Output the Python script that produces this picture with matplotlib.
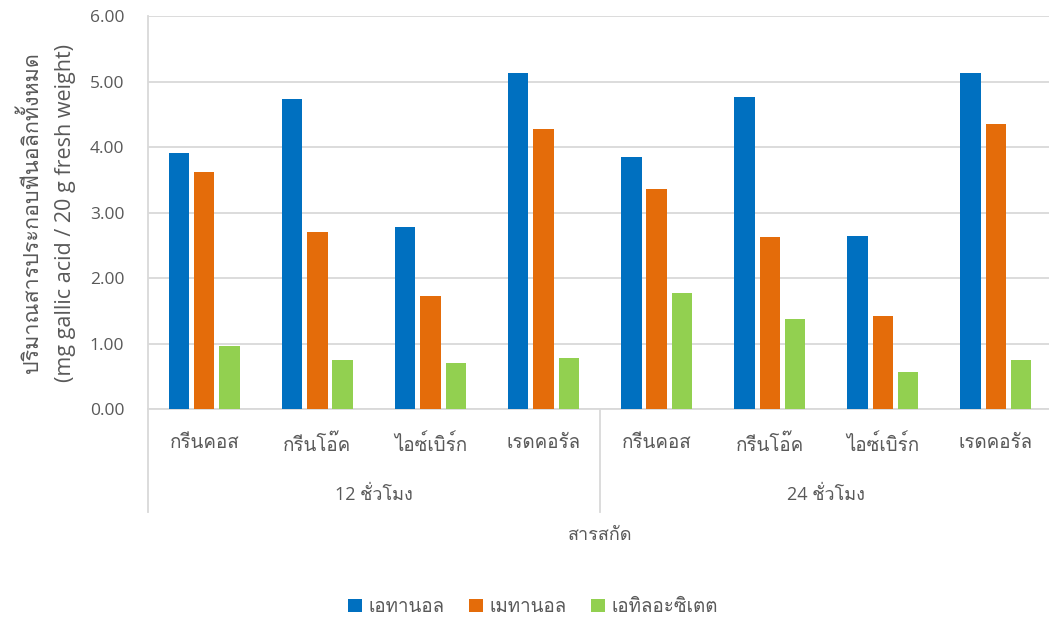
import numpy as np
import matplotlib
matplotlib.use("Agg")
import matplotlib.pyplot as plt
import matplotlib.transforms as mtransforms
from matplotlib import font_manager
from matplotlib.ft2font import FT2Font
from matplotlib.patches import Patch

# data
groups = ['12 ชั่วโมง', '24 ชั่วโมง']
plants = ['กรีนคอส', 'กรีนโอ๊ค', 'ไอซ์เบิร์ก', 'เรดคอรัล']
series = ['เอทานอล', 'เมทานอล', 'เอทิลอะซิเตต']
ethanol = [3.91, 4.74, 2.78, 5.13, 3.85, 4.77, 2.64, 5.13]
methanol = [3.62, 2.70, 1.73, 4.27, 3.36, 2.63, 1.43, 4.36]
ethyl_acetate = [0.96, 0.75, 0.70, 0.78, 1.77, 1.38, 0.57, 0.75]
colors = ['#0070C0', '#E46C0A', '#92D050']


def find_thai_font():
    # first installed font that has Thai glyphs
    for f in font_manager.fontManager.ttflist:
        try:
            if 0x0E01 in FT2Font(f.fname).get_charmap():
                return f.name
        except Exception:
            pass
    return None


thai = find_thai_font()
fams = ['Open Sans', 'DejaVu Sans']
if thai:
    fams.append(thai)
plt.rcParams['font.family'] = fams
grey = '#595959'

fig = plt.figure(figsize=(10.49, 6.21), dpi=100)
ax = fig.add_axes([0.141, 0.341, 0.862, 0.633])

n = len(groups) * len(plants)
x = np.arange(n)
w = 0.178
step = 0.222
for i, vals in enumerate([ethanol, methanol, ethyl_acetate]):
    ax.bar(x + (i - 1) * step, vals, w, color=colors[i], label=series[i], zorder=3)

ax.set_xlim(-0.5, n - 0.5)
ax.set_ylim(0, 6)
ax.set_yticks(np.arange(0, 6.01, 1))
ax.set_yticklabels(['%.2f' % v for v in np.arange(0, 6.01, 1)])
ax.yaxis.grid(True, color='#d9d9d9', linewidth=1.3, zorder=0)
ax.set_xticks(x)
ax.set_xticklabels(plants * len(groups))
ax.tick_params(axis='both', length=0, colors=grey)
ax.tick_params(axis='y', labelsize=12.5, pad=17)
ax.tick_params(axis='x', labelsize=13.5, pad=18)
for s in ['top', 'right']:
    ax.spines[s].set_visible(False)
for s in ['left', 'bottom']:
    ax.spines[s].set_color('#d9d9d9')
    ax.spines[s].set_linewidth(1.3)

# second level of the category axis
trans = mtransforms.blended_transform_factory(ax.transData, ax.transAxes)
per = len(plants)
for g, name in enumerate(groups):
    ax.text(g * per + (per - 1) / 2, -0.219, name, transform=trans,
            ha='center', va='center', fontsize=13, color=grey)
for b in range(len(groups)):
    ax.plot([b * per - 0.5, b * per - 0.5], [0, -0.262], transform=trans,
            color='#d9d9d9', linewidth=1.3, clip_on=False)

ax.text(0.5, -0.32, 'สารสกัด', transform=ax.transAxes, ha='center', va='center',
        fontsize=13, color=grey)
ax.set_ylabel('ปริมาณสารประกอบฟีนอลิกทั้งหมด\n(mg gallic acid / 20 g fresh weight)',
              fontsize=15.5, color=grey, labelpad=10, linespacing=1.75)

handles = [Patch(facecolor=colors[i], label=series[i]) for i in range(3)]
fig.legend(handles=handles, loc='center', bbox_to_anchor=(0.508, 0.0225), ncol=3,
           frameon=False, fontsize=13.5, handlelength=0.75, handleheight=0.75,
           handletextpad=0.35, columnspacing=1.3, labelcolor=grey)

fig.savefig('out.png', dpi=100)
